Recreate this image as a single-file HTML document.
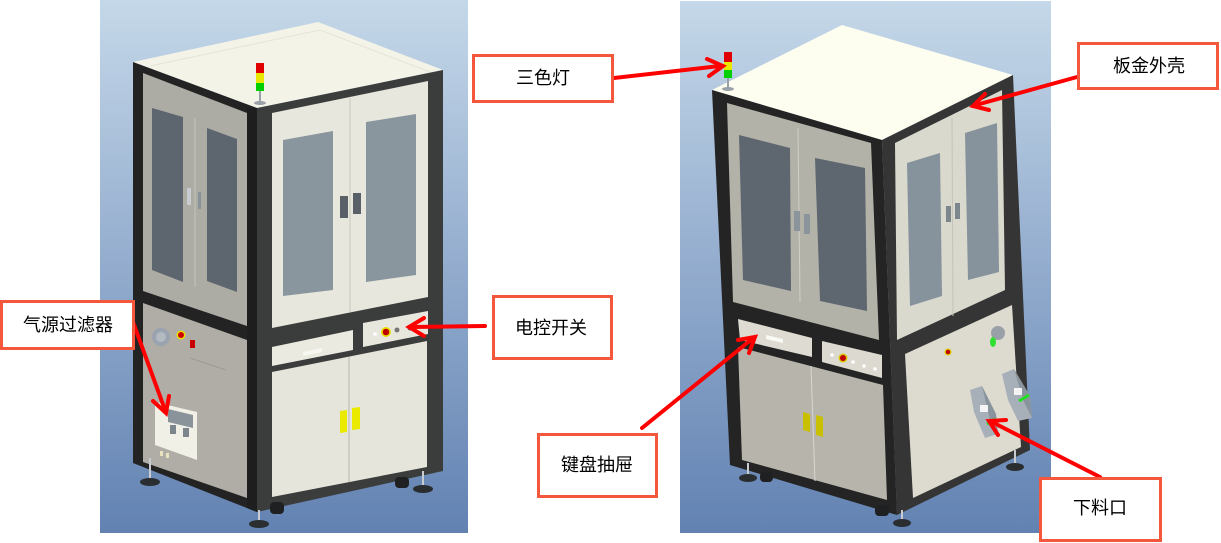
<!DOCTYPE html>
<html>
<head>
<meta charset="utf-8">
<style>
html,body{margin:0;padding:0;background:#fff;}
svg{display:block;}
text{font-family:"Liberation Sans","Noto Sans CJK SC",sans-serif;font-size:18px;fill:#000;}
</style>
</head>
<body>
<svg width="1221" height="543" viewBox="0 0 1221 543" xmlns="http://www.w3.org/2000/svg">
<defs>
<linearGradient id="bg" x1="0" y1="0" x2="0" y2="1">
<stop offset="0" stop-color="#c5d8e9"/>
<stop offset="0.55" stop-color="#8ea8cb"/>
<stop offset="1" stop-color="#6282b2"/>
</linearGradient>
</defs>
<rect width="1221" height="543" fill="#fff"/>

<!-- ===== LEFT IMAGE ===== -->
<rect x="100" y="0" width="368" height="533" fill="url(#bg)"/>
<polygon points="133,62 318,22 443,70 257,108" fill="#f3f3e8"/>
<polyline points="150,66 320,30 430,72" fill="none" stroke="#e4e4d8" stroke-width="1"/>
<polygon points="133,62 257,108 257,512 133,463" fill="#232323"/>
<polygon points="257,108 443,70 443,471 257,512" fill="#3b3d3d"/>
<polygon points="247,108 257,108 257,512 247,508" fill="#1e1e1e"/>
<polygon points="143,73 247,113 247,326 143,291" fill="#adaca4"/>
<polygon points="152,108 183,117 183,282 152,270" fill="#5d656e"/>
<polygon points="207,128 237,139 237,292 207,281" fill="#5d656e"/>
<line x1="195" y1="118" x2="195" y2="287" stroke="#c4c3bb" stroke-width="1"/>
<rect x="187" y="188" width="4" height="17" fill="#c8ccd0"/>
<rect x="198" y="192" width="3" height="17" fill="#8a9299"/>
<polygon points="272,113 428,81 428,297 272,328" fill="#e8e7dd"/>
<polygon points="283,140 333,131 333,290 283,296" fill="#89969e"/>
<polygon points="366,122 416,114 416,275 366,282" fill="#89969e"/>
<line x1="350" y1="98" x2="350" y2="312" stroke="#c8c8c0" stroke-width="1"/>
<rect x="340" y="196" width="8" height="22" fill="#5a6068"/>
<rect x="353" y="193" width="8" height="21" fill="#5a6068"/>
<polygon points="143,303 247,340 247,498 143,462" fill="#afada5"/>
<circle cx="161" cy="337" r="9" fill="#9aa3b0"/>
<circle cx="161" cy="337" r="5" fill="#b4bac2"/>
<circle cx="181" cy="335" r="4.5" fill="#e8e000"/>
<circle cx="181" cy="335" r="3" fill="#d00000"/>
<rect x="190" y="340" width="5" height="8" fill="#c80000"/>
<line x1="190" y1="358" x2="226" y2="370" stroke="#9c9a93" stroke-width="1"/>
<polygon points="155,402 197,412 197,460 155,445" fill="#f0f0e6"/>
<polygon points="168,409 193,415 193,428 168,422" fill="#8a929a"/>
<rect x="170" y="425" width="6" height="9" fill="#7c848c"/>
<rect x="183" y="428" width="6" height="9" fill="#7c848c"/>
<rect x="160" y="451" width="3" height="5" fill="#e8e2c0"/>
<rect x="166" y="453" width="3" height="5" fill="#e8e2c0"/>
<polygon points="272,347 353,330 353,350 272,366" fill="#ebeae0"/>
<polygon points="303,352 322,348 322,352 303,356" fill="#f8f8f2"/>
<polygon points="363,323 428,311 428,334 363,347" fill="#e8e7dd"/>
<circle cx="386" cy="332" r="5" fill="#e8e000"/>
<circle cx="386" cy="332" r="3.3" fill="#c00000"/>
<circle cx="397" cy="330" r="2.5" fill="#777"/>
<circle cx="410" cy="328" r="2.5" fill="#555"/>
<circle cx="375" cy="334" r="1.8" fill="#fff"/>
<polygon points="272,372 427,341 427,467 272,497" fill="#e6e5db"/>
<line x1="349" y1="357" x2="349" y2="482" stroke="#b8b8b0" stroke-width="1"/>
<polygon points="340,411 347,410 347,432 340,433" fill="#eaea00"/>
<polygon points="352,408 360,407 360,429 352,430" fill="#eaea00"/>
<line x1="150" y1="458" x2="150" y2="480" stroke="#c8ccd0" stroke-width="2"/>
<ellipse cx="150" cy="482" rx="10" ry="4" fill="#2a2e30"/>
<rect x="270" y="502" width="14" height="12" rx="4" fill="#1e2022"/>
<rect x="395" y="477" width="14" height="11" rx="4" fill="#1e2022"/>
<line x1="259" y1="510" x2="259" y2="521" stroke="#c8ccd0" stroke-width="2"/>
<ellipse cx="259" cy="524" rx="10" ry="4" fill="#2a2e30"/>
<line x1="423" y1="471" x2="423" y2="486" stroke="#c8ccd0" stroke-width="2"/>
<ellipse cx="423" cy="489" rx="10" ry="4" fill="#2a2e30"/>
<rect x="256" y="63" width="8" height="10" fill="#e00000"/>
<rect x="256" y="73" width="8" height="10" fill="#e8e800"/>
<rect x="256" y="83" width="8" height="8" fill="#00d000"/>
<line x1="260" y1="91" x2="260" y2="102" stroke="#9aa0a8" stroke-width="2"/>
<ellipse cx="260" cy="103" rx="6" ry="2" fill="#9aa0a8"/>

<!-- ===== RIGHT IMAGE ===== -->
<rect x="680" y="1" width="371" height="532" fill="url(#bg)"/>
<polygon points="712,90 842,25 1013,75 882,140" fill="#fdfdf0"/>
<polygon points="712,90 882,140 897,515 730,465" fill="#242424"/>
<polygon points="882,140 1013,75 1030,450 897,515" fill="#353535"/>
<polygon points="727,103 871,143 879,340 733,302" fill="#b3b2a9"/>
<polygon points="739,135 790,148 791,291 743,280" fill="#5e6670"/>
<polygon points="815,158 865,168 867,311 820,301" fill="#5e6670"/>
<line x1="798" y1="128" x2="800" y2="302" stroke="#d0cfc8" stroke-width="1"/>
<rect x="794" y="211" width="6" height="20" fill="#8b939b"/>
<rect x="804" y="214" width="6" height="20" fill="#8b939b"/>
<polygon points="895,143 1002,90 1005,290 897,340" fill="#dad9ce"/>
<polygon points="907,163 940,153 942,296 910,306" fill="#86929c"/>
<polygon points="965,133 997,123 999,272 968,280" fill="#86929c"/>
<line x1="952" y1="118" x2="953" y2="316" stroke="#c4c3ba" stroke-width="1"/>
<rect x="946" y="206" width="5" height="16" fill="#7d858d"/>
<rect x="955" y="203" width="5" height="16" fill="#7d858d"/>
<polygon points="738,319 812,338 812,357 740,340" fill="#dedcd2"/>
<polygon points="766,335 783,339 783,343 766,339" fill="#fafaf4"/>
<polygon points="822,341 882,355 882,378 822,362" fill="#dcdad0"/>
<circle cx="843" cy="358" r="4.5" fill="#d8c800"/>
<circle cx="843" cy="358" r="3" fill="#c00000"/>
<circle cx="832" cy="355" r="1.8" fill="#fff"/>
<circle cx="853" cy="362" r="1.8" fill="#fff"/>
<circle cx="864" cy="366" r="1.8" fill="#fff"/>
<circle cx="875" cy="369" r="1.8" fill="#fff"/>
<polygon points="738,347 883,385 887,500 742,460" fill="#b6b4ab"/>
<line x1="811" y1="366" x2="815" y2="481" stroke="#d8d8d0" stroke-width="1"/>
<polygon points="803,412 810,414 810,432 803,430" fill="#c8c000"/>
<polygon points="816,415 823,417 823,437 816,435" fill="#c8c000"/>
<polygon points="905,354 1012,305 1021,447 913,498" fill="#dddbd0"/>
<circle cx="998" cy="333" r="7" fill="#9aa0a8"/>
<ellipse cx="993" cy="342" rx="3" ry="5" fill="#30e030"/>
<circle cx="948" cy="352" r="3.5" fill="#d8c800"/>
<circle cx="948" cy="352" r="2.2" fill="#c00000"/>
<polygon points="970,390 982,386 996,414 998,434 985,438 974,412" fill="#a7b0b8"/>
<polygon points="982,386 996,414 998,434 990,420" fill="#8a949c"/>
<rect x="980" y="405" width="8" height="7" fill="#f4f4f4"/>
<line x1="987" y1="424" x2="996" y2="419" stroke="#20e020" stroke-width="3"/>
<polygon points="1002,374 1014,369 1030,396 1032,418 1018,421 1008,400" fill="#a7b0b8"/>
<polygon points="1014,369 1030,396 1032,418 1024,402" fill="#8a949c"/>
<rect x="1014" y="388" width="8" height="7" fill="#f4f4f4"/>
<line x1="1019" y1="401" x2="1029" y2="395" stroke="#20e020" stroke-width="3"/>
<line x1="748" y1="463" x2="748" y2="476" stroke="#c8ccd0" stroke-width="2"/>
<ellipse cx="748" cy="478" rx="9" ry="4" fill="#2a2e30"/>
<rect x="760" y="472" width="13" height="10" rx="4" fill="#1e2022"/>
<rect x="875" y="505" width="14" height="11" rx="4" fill="#1e2022"/>
<line x1="902" y1="510" x2="902" y2="520" stroke="#c8ccd0" stroke-width="2"/>
<ellipse cx="902" cy="523" rx="9" ry="4" fill="#2a2e30"/>
<line x1="1015" y1="450" x2="1015" y2="464" stroke="#c8ccd0" stroke-width="2"/>
<ellipse cx="1015" cy="467" rx="9" ry="4" fill="#2a2e30"/>
<rect x="724" y="52" width="8" height="10" fill="#e00000"/>
<rect x="724" y="62" width="8" height="8" fill="#e8e800"/>
<rect x="724" y="70" width="8" height="8" fill="#00d000"/>
<line x1="728" y1="78" x2="728" y2="88" stroke="#9aa0a8" stroke-width="2"/>
<ellipse cx="728" cy="89" rx="6" ry="2" fill="#9aa0a8"/>

<!-- ===== ARROWS ===== -->
<g stroke="#ff0000" stroke-width="4" fill="none" stroke-linecap="round" stroke-linejoin="miter">
<line x1="133" y1="322" x2="165" y2="410"/>
<polyline points="153,401 166,413 169,396"/>
<line x1="485" y1="326" x2="412" y2="327"/>
<polyline points="424,318 409,327 424,336"/>
<line x1="614" y1="78" x2="720" y2="66"/>
<polyline points="707,59 723,66 709,76"/>
<line x1="1077" y1="77" x2="976" y2="105"/>
<polyline points="985,94 973,106 989,110"/>
<line x1="642" y1="428" x2="752" y2="339"/>
<polyline points="738,340 755,337 749,353"/>
<line x1="1100" y1="477" x2="992" y2="422"/>
<polyline points="1006,420 989,421 998,435"/>
</g>

<!-- ===== LABEL BOXES ===== -->
<g fill="#fff" stroke="#f4573b" stroke-width="3">
<rect x="1.5" y="301.5" width="132" height="47"/>
<rect x="473.5" y="55.5" width="139" height="46"/>
<rect x="1078.5" y="43.5" width="139" height="45"/>
<rect x="493.5" y="296.5" width="118" height="62"/>
<rect x="538.5" y="434.5" width="118" height="62"/>
<rect x="1040.5" y="478.5" width="120" height="62"/>
</g>
<g text-anchor="middle" dominant-baseline="central">
<text x="68" y="325">气源过滤器</text>
<text x="543" y="78">三色灯</text>
<text x="1149" y="66">板金外壳</text>
<text x="551" y="328">电控开关</text>
<text x="597" y="465">键盘抽屉</text>
<text x="1100" y="508">下料口</text>
</g>
</svg>
</body>
</html>
